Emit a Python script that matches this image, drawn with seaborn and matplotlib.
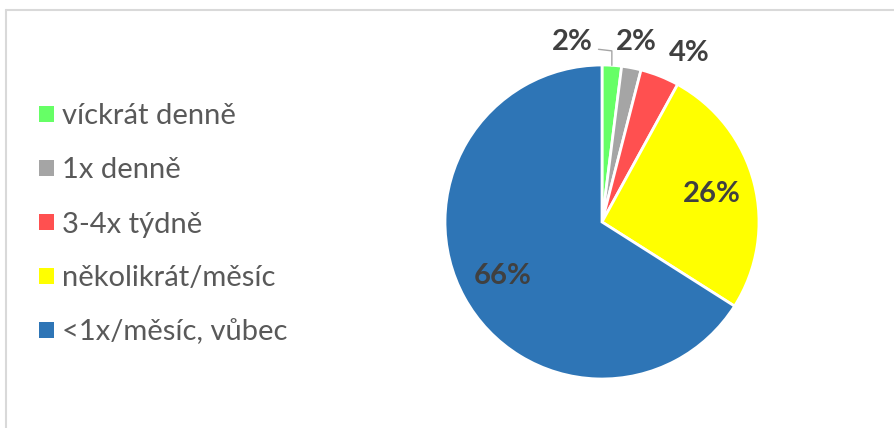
import matplotlib
matplotlib.use("Agg")
import matplotlib.pyplot as plt
from matplotlib.patches import Patch
from matplotlib.lines import Line2D
import numpy as np
import seaborn as sns

# Frequency categories and their shares (%)
categories = ["víckrát denně", "1x denně", "3-4x týdně", "několikrát/měsíc", "<1x/měsíc, vůbec"]
shares = [2, 2, 4, 26, 66]
colors = ["#66FF66", "#A5A5A5", "#FF5050", "#FFFF00", "#2E75B6"]

sns.set_theme(style="white")
plt.rcParams["font.family"] = ["Lato", "DejaVu Sans"]

W, H = 894, 428
fig = plt.figure(figsize=(W / 100, H / 100), dpi=100)
fig.patch.set_facecolor("white")

# outer chart border (top and left edges visible)
fig.add_artist(Line2D([6 / W, 6 / W], [0, 1 - 9.5 / H], transform=fig.transFigure,
                      color="#D9D9D9", lw=1.5))
fig.add_artist(Line2D([6 / W, 1], [1 - 9.5 / H, 1 - 9.5 / H], transform=fig.transFigure,
                      color="#D9D9D9", lw=1.5))

# pie axes: centre (602, 222) px, radius 157 px
cx, cy, r = 602, 222, 157
ax = fig.add_axes([(cx - r) / W, (H - cy - r) / H, 2 * r / W, 2 * r / H])
wedges, _ = ax.pie(shares, colors=colors, startangle=90, counterclock=False,
                   radius=1.0, wedgeprops=dict(edgecolor="white", linewidth=2))
ax.set_xlim(-1, 1)
ax.set_ylim(-1, 1)
ax.set_axis_off()

label_kw = dict(va="center", fontsize=21, fontweight="bold", color="#404040")
for i, (w, v) in enumerate(zip(wedges, shares)):
    mid = np.deg2rad((w.theta1 + w.theta2) / 2)
    d = np.array([np.cos(mid), np.sin(mid)])
    if v >= 10:
        x, y = 0.72 * d
        ax.text(x, y, f"{v}%", ha="center", **label_kw)
    elif i == 0:
        # label moved aside, joined to its slice by a leader line
        edge = 1.0 * d
        knee = np.array([edge[0], 1.09])
        end = np.array([edge[0] - 0.085, 1.10])
        ax.plot([edge[0], knee[0], end[0]], [edge[1], knee[1], end[1]],
                color="#A5A5A5", lw=1, clip_on=False)
        ax.text(-0.19, 1.146, f"{v}%", ha="center", **label_kw)
    elif i == 1:
        x, y = 1.17 * d
        ax.text(x, y, f"{v}%", ha="center", **label_kw)
    else:
        x, y = 1.16 * d
        ax.text(x, y, f"{v}%", ha="left", **label_kw)

handles = [Patch(facecolor=c, edgecolor="none") for c in colors]
leg = fig.legend(handles, categories, loc="center left",
                 bbox_to_anchor=(39 / W, 1 - 224.5 / H), frameon=False,
                 fontsize=21, labelcolor="#595959", handlelength=0.5, handleheight=0.5,
                 handletextpad=0.3, labelspacing=0.96, borderpad=0, borderaxespad=0)

fig.savefig("out.png", dpi=100, facecolor="white")
